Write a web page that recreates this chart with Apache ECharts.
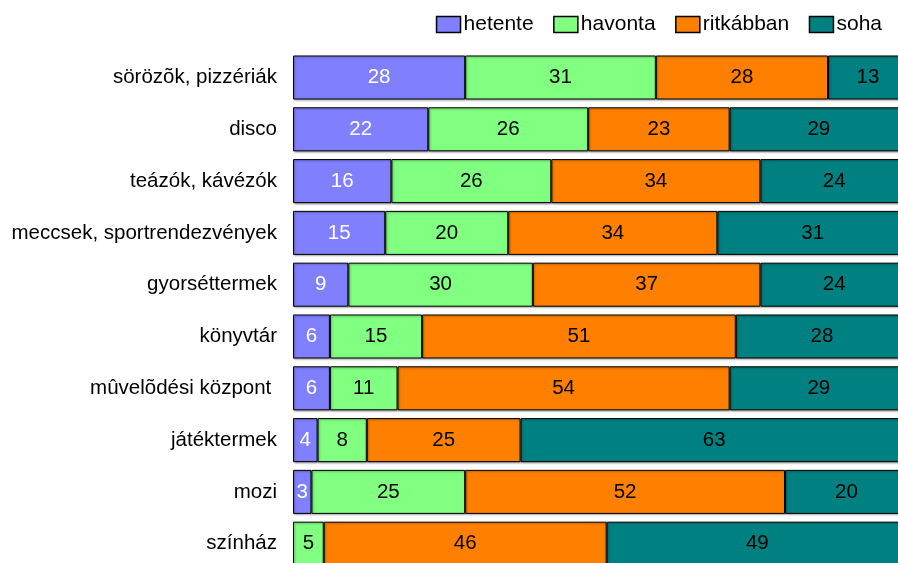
<!DOCTYPE html>
<html>
<head>
<meta charset="utf-8">
<script src="https://cdn.jsdelivr.net/npm/echarts@6/dist/echarts.min.js"></script>
<style>
  html, body { margin: 0; padding: 0; background: #fff; overflow: hidden; }
  /* chart is a bit larger than the window: the original picture is cropped right and bottom */
  #chart { width: 912px; height: 572px; }
</style>
</head>
<body>
<div id="chart"></div>
<script>
  var categories = ['sörözõk, pizzériák', 'disco', 'teázók, kávézók', 'meccsek, sportrendezvények',
    'gyorséttermek', 'könyvtár', 'mûvelõdési központ ', 'játéktermek', 'mozi', 'színház']
  var hetente = [28, 22, 16, 15, 9, 6, 6, 4, 3, 0]
  var havonta = [31, 26, 26, 20, 30, 15, 11, 8, 25, 5]
  var ritkabban = [28, 23, 34, 34, 37, 51, 54, 25, 52, 46]
  var soha = [13, 29, 24, 31, 24, 28, 29, 63, 20, 49]

  var font = '"Liberation Sans", Arial, sans-serif'

  function makeSeries(name, data, color, labelColor) {
    return {
      name: name,
      type: 'bar',
      stack: 'total',
      barCategoryGap: '15%',
      // empty segments get no border
      data: data.map(function (v) {
        return v ? v : { value: v, itemStyle: { borderWidth: 0, shadowBlur: 0, shadowOffsetX: 0, shadowOffsetY: 0 } }
      }),
      itemStyle: {
        color: color,
        borderColor: '#000',
        borderWidth: 1,
        shadowColor: 'rgba(0,0,0,0.35)',
        shadowBlur: 2,
        shadowOffsetX: 1,
        shadowOffsetY: 1
      },
      label: {
        show: true,
        position: 'inside',
        color: labelColor,
        fontFamily: font,
        fontSize: 20.5,
        formatter: function (p) { return p.value ? p.value : '' }
      },
      animation: false
    }
  }

  var chart = echarts.init(document.getElementById('chart'))
  chart.setOption({
    legend: {
      top: 9,
      right: 25,
      itemWidth: 24,
      itemHeight: 16,
      itemGap: 19.5,
      icon: 'rect',
      textStyle: { fontFamily: font, fontSize: 21, color: '#000', padding: [0, 0, 0, -2] },
      itemStyle: { borderColor: '#000', borderWidth: 1.5 }
    },
    grid: {
      left: 293,
      top: 51.6,
      width: 615,
      height: 518,
      containLabel: false,
      outerBoundsMode: 'none'
    },
    xAxis: {
      type: 'value',
      min: 0,
      max: 100,
      show: false
    },
    yAxis: {
      type: 'category',
      data: categories,
      inverse: true,
      axisLine: { show: false },
      axisTick: { show: false },
      axisLabel: { margin: 16, color: '#000', fontFamily: font, fontSize: 20.5 }
    },
    series: [
      makeSeries('hetente', hetente, '#8080FF', '#fff'),
      makeSeries('havonta', havonta, '#80FF80', '#000'),
      makeSeries('ritkábban', ritkabban, '#FF8000', '#000'),
      makeSeries('soha', soha, '#008080', '#000')
    ]
  })
</script>
</body>
</html>
